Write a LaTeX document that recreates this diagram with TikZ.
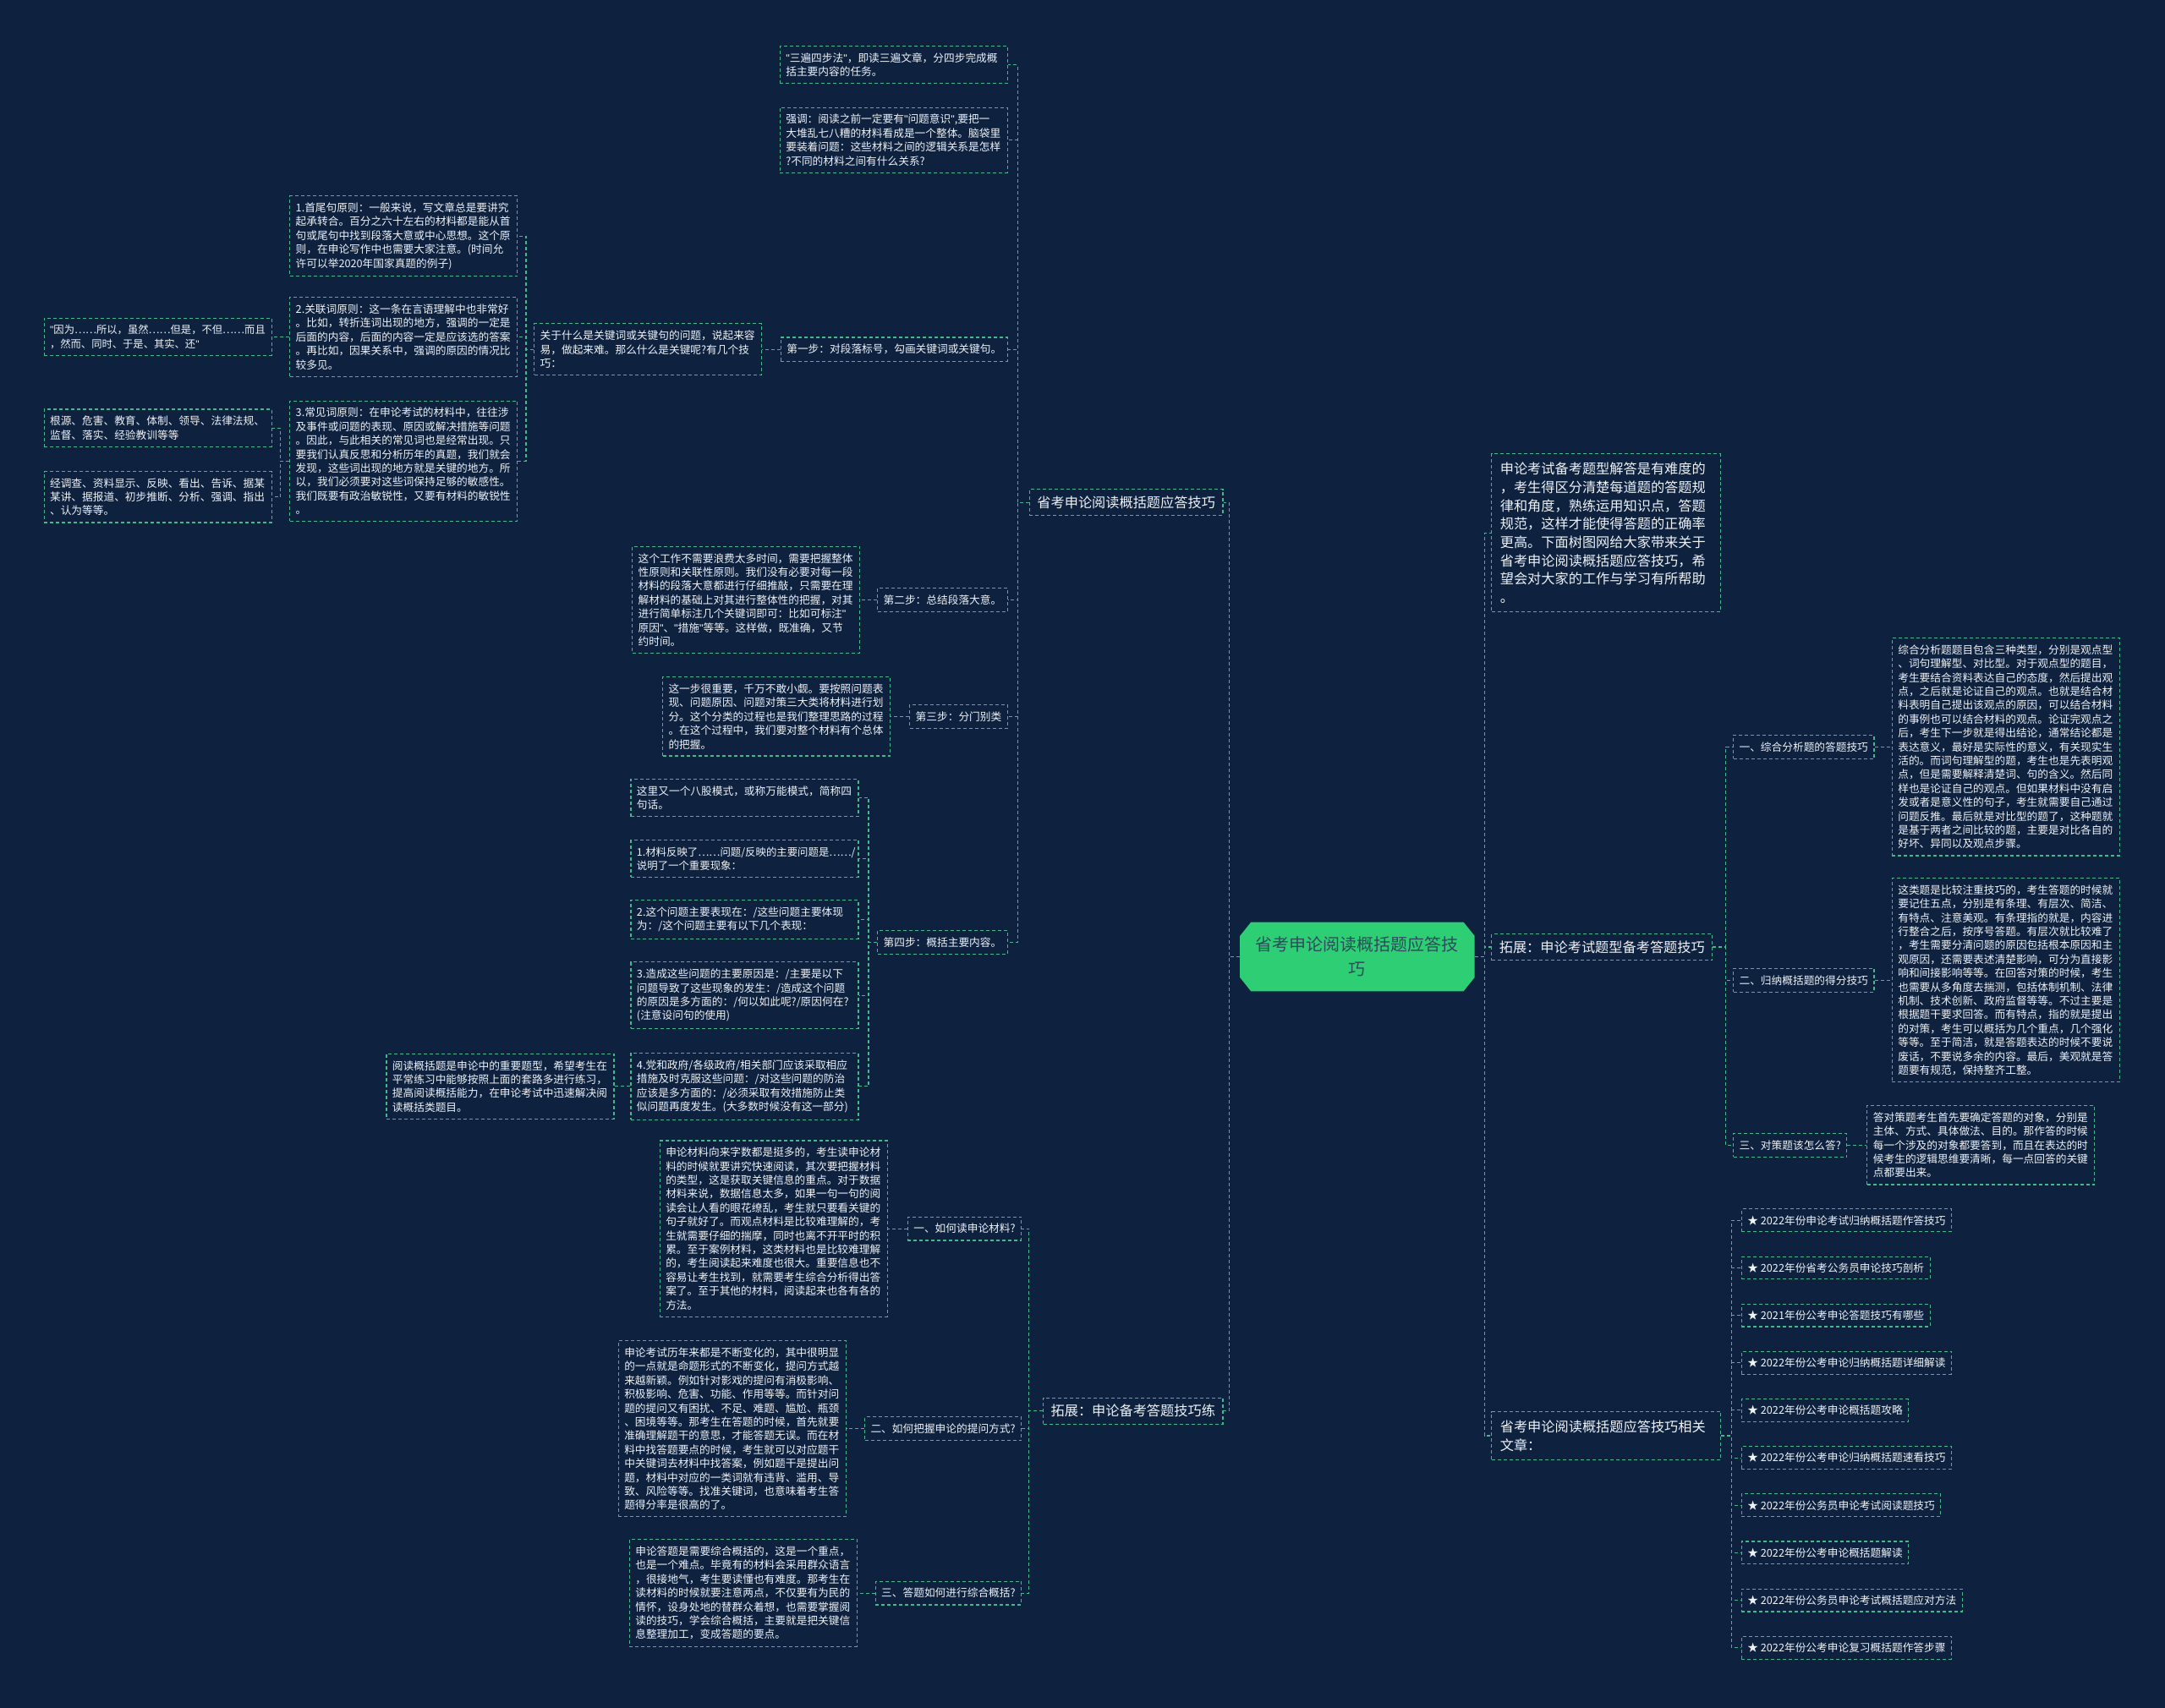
\documentclass[tikz,border=0pt]{standalone}
\usepackage{fontspec}
\setmainfont{Noto Sans CJK SC}
\newfontfamily\lat{Liberation Sans}
\newcommand{\dq}{{\lat\symbol{34}}}
\definecolor{bg}{HTML}{0E2240}
\definecolor{lg}{HTML}{44B98A}
\definecolor{txt}{HTML}{EEF2F6}
\definecolor{cgreen}{HTML}{2ECF74}
\definecolor{ctext}{HTML}{2D4B5C}
\begin{document}
\begin{tikzpicture}[x=1.6327pt,y=-1.6327pt,
  box/.style={draw=lg, dash pattern=on 4pt off 3pt, line width=1.1pt, text=txt,
    font=\fontsize{12.7}{16.4}\selectfont, inner xsep=7pt, inner ysep=8pt, align=left},
  tbox/.style={box, text width=255pt},
  mainbox/.style={box, font=\fontsize{16.2}{21.7}\selectfont, inner xsep=9pt, inner ysep=8pt},
  conn/.style={draw=lg, dash pattern=on 4pt off 3pt, line width=1.1pt}]
\fill[bg] (0,0) rectangle (1568,1237);
\useasboundingbox (0,0) rectangle (1568,1237);

% spine coordinates
\coordinate (sL) at (890,0);
\coordinate (sR) at (1075,0);
\coordinate (sA) at (737,0);
\coordinate (sK) at (381,0);
\coordinate (sP3) at (203,0);
\coordinate (sA4) at (629,0);
\coordinate (sB) at (745,0);
\coordinate (sD) at (1250,0);
\coordinate (sE) at (1254,0);

% centre
\fill[cgreen] (906,668) -- (1060,668) -- (1068,678) -- (1068,708) -- (1060,718) -- (906,718) -- (898,708) -- (898,678) -- cycle;
\node[font=\fontsize{20}{29}\selectfont, text=ctext, align=center, minimum width=277.6pt, minimum height=81.6pt, inner sep=0pt] (ctr) at (983,693) {省考申论阅读概括题应答技\\巧};

% main branches
\node[mainbox, anchor=east] (A) at (886,364) {省考申论阅读概括题应答技巧};
\node[mainbox, anchor=east] (B) at (886,1022) {拓展：申论备考答题技巧练};
\node[mainbox, anchor=west, text width=251pt, inner xsep=10pt, inner ysep=10pt] (C) at (1080,386) {申论考试备考题型解答是有难度的\\，考生得区分清楚每道题的答题规\\律和角度，熟练运用知识点，答题\\规范，这样才能使得答题的正确率\\更高。下面树图网给大家带来关于\\省考申论阅读概括题应答技巧，希\\望会对大家的工作与学习有所帮助\\。};
\node[mainbox, anchor=west] (D) at (1080,686) {拓展：申论考试题型备考答题技巧};
\node[mainbox, anchor=west, text width=251pt, inner xsep=10pt, inner ysep=10pt] (E) at (1080,1040) {省考申论阅读概括题应答技巧相关\\文章：};

% A children
\node[tbox, anchor=east] (t1) at (730,47) {\dq 三遍四步法\dq，即读三遍文章，分四步完成概\\括主要内容的任务。};
\node[tbox, anchor=east] (t2) at (730,101.5) {强调：阅读之前一定要有\dq 问题意识\dq,要把一\\大堆乱七八糟的材料看成是一个整体。脑袋里\\要装着问题：这些材料之间的逻辑关系是怎样\\?不同的材料之间有什么关系?};
\node[box, anchor=east] (A1) at (730,253) {第一步：对段落标号，勾画关键词或关键句。};
\node[box, anchor=east] (A2) at (730,434.5) {第二步：总结段落大意。};
\node[box, anchor=east] (A3) at (730,519) {第三步：分门别类};
\node[box, anchor=east] (A4) at (730,682.5) {第四步：概括主要内容。};

\node[tbox, anchor=east] (k) at (552,253) {关于什么是关键词或关键句的问题，说起来容\\易，做起来难。那么什么是关键呢?有几个技\\巧：};
\node[tbox, anchor=east] (p1) at (375,171) {1.首尾句原则：一般来说，写文章总是要讲究\\起承转合。百分之六十左右的材料都是能从首\\句或尾句中找到段落大意或中心思想。这个原\\则，在申论写作中也需要大家注意。(时间允\\许可以举2020年国家真题的例子)};
\node[tbox, anchor=east] (p2) at (375,244) {2.关联词原则：这一条在言语理解中也非常好\\。比如，转折连词出现的地方，强调的一定是\\后面的内容，后面的内容一定是应该选的答案\\。再比如，因果关系中，强调的原因的情况比\\较多见。};
\node[tbox, anchor=east] (p3) at (375,334) {3.常见词原则：在申论考试的材料中，往往涉\\及事件或问题的表现、原因或解决措施等问题\\。因此，与此相关的常见词也是经常出现。只\\要我们认真反思和分析历年的真题，我们就会\\发现，这些词出现的地方就是关键的地方。所\\以，我们必须要对这些词保持足够的敏感性。\\我们既要有政治敏锐性，又要有材料的敏锐性\\。};
\node[tbox, anchor=east, font=\fontsize{12.3}{16.4}\selectfont] (q1) at (197,244) {\dq 因为……所以，虽然……但是，不但……而且\\，然而、同时、于是、其实、还\dq};
\node[tbox, anchor=east] (q2) at (197,310) {根源、危害、教育、体制、领导、法律法规、\\监督、落实、经验教训等等};
\node[tbox, anchor=east] (q3) at (197,360) {经调查、资料显示、反映、看出、告诉、据某\\某讲、据报道、初步推断、分析、强调、指出\\、认为等等。};

\node[tbox, anchor=east] (A2c) at (623,434.5) {这个工作不需要浪费太多时间，需要把握整体\\性原则和关联性原则。我们没有必要对每一段\\材料的段落大意都进行仔细推敲，只需要在理\\解材料的基础上对其进行整体性的把握，对其\\进行简单标注几个关键词即可：比如可标注\dq\\原因\dq、\dq 措施\dq 等等。这样做，既准确，又节\\约时间。};
\node[tbox, anchor=east] (A3c) at (645,519) {这一步很重要，千万不敢小觑。要按照问题表\\现、问题原因、问题对策三大类将材料进行划\\分。这个分类的过程也是我们整理思路的过程\\。在这个过程中，我们要对整个材料有个总体\\的把握。};

\node[tbox, anchor=east] (r0) at (622,578) {这里又一个八股模式，或称万能模式，简称四\\句话。};
\node[tbox, anchor=east, font=\fontsize{12.4}{16.4}\selectfont] (r1) at (622,622) {1.材料反映了……问题/反映的主要问题是……/\\说明了一个重要现象：};
\node[tbox, anchor=east] (r2) at (622,666) {2.这个问题主要表现在：/这些问题主要体现\\为：/这个问题主要有以下几个表现：};
\node[tbox, anchor=east] (r3) at (622,721) {3.造成这些问题的主要原因是：/主要是以下\\问题导致了这些现象的发生：/造成这个问题\\的原因是多方面的：/何以如此呢?/原因何在?\\(注意设问句的使用)};
\node[tbox, anchor=east] (r4) at (622,787) {4.党和政府/各级政府/相关部门应该采取相应\\措施及时克服这些问题：/对这些问题的防治\\应该是多方面的：/必须采取有效措施防止类\\似问题再度发生。(大多数时候没有这一部分)};
\node[tbox, anchor=east] (r4c) at (445,787) {阅读概括题是申论中的重要题型，希望考生在\\平常练习中能够按照上面的套路多进行练习，\\提高阅读概括能力，在申论考试中迅速解决阅\\读概括类题目。};

% B children
\node[box, anchor=east] (b1) at (740,890) {一、如何读申论材料?};
\node[box, anchor=east] (b2) at (740,1035) {二、如何把握申论的提问方式?};
\node[box, anchor=east] (b3) at (740,1154) {三、答题如何进行综合概括?};
\node[tbox, anchor=east] (b1c) at (643,890) {申论材料向来字数都是挺多的，考生读申论材\\料的时候就要讲究快速阅读，其次要把握材料\\的类型，这是获取关键信息的重点。对于数据\\材料来说，数据信息太多，如果一句一句的阅\\读会让人看的眼花缭乱，考生就只要看关键的\\句子就好了。而观点材料是比较难理解的，考\\生就需要仔细的揣摩，同时也离不开平时的积\\累。至于案例材料，这类材料也是比较难理解\\的，考生阅读起来难度也很大。重要信息也不\\容易让考生找到，就需要考生综合分析得出答\\案了。至于其他的材料，阅读起来也各有各的\\方法。};
\node[tbox, anchor=east] (b2c) at (613,1035) {申论考试历年来都是不断变化的，其中很明显\\的一点就是命题形式的不断变化，提问方式越\\来越新颖。例如针对影戏的提问有消极影响、\\积极影响、危害、功能、作用等等。而针对问\\题的提问又有困扰、不足、难题、尴尬、瓶颈\\、困境等等。那考生在答题的时候，首先就要\\准确理解题干的意思，才能答题无误。而在材\\料中找答题要点的时候，考生就可以对应题干\\中关键词去材料中找答案，例如题干是提出问\\题，材料中对应的一类词就有违背、滥用、导\\致、风险等等。找准关键词，也意味着考生答\\题得分率是很高的了。};
\node[tbox, anchor=east] (b3c) at (621,1154) {申论答题是需要综合概括的，这是一个重点，\\也是一个难点。毕竟有的材料会采用群众语言\\，很接地气，考生要读懂也有难度。那考生在\\读材料的时候就要注意两点，不仅要有为民的\\情怀，设身处地的替群众着想，也需要掌握阅\\读的技巧，学会综合概括，主要就是把关键信\\息整理加工，变成答题的要点。};

% D children
\node[box, anchor=west] (D1) at (1255,541) {一、综合分析题的答题技巧};
\node[box, anchor=west] (D2) at (1255,710) {二、归纳概括题的得分技巧};
\node[box, anchor=west] (D3) at (1255,829.5) {三、对策题该怎么答?};
\node[tbox, anchor=west] (D1c) at (1370,541) {综合分析题题目包含三种类型，分别是观点型\\、词句理解型、对比型。对于观点型的题目，\\考生要结合资料表达自己的态度，然后提出观\\点，之后就是论证自己的观点。也就是结合材\\料表明自己提出该观点的原因，可以结合材料\\的事例也可以结合材料的观点。论证完观点之\\后，考生下一步就是得出结论，通常结论都是\\表达意义，最好是实际性的意义，有关现实生\\活的。而词句理解型的题，考生也是先表明观\\点，但是需要解释清楚词、句的含义。然后同\\样也是论证自己的观点。但如果材料中没有启\\发或者是意义性的句子，考生就需要自己通过\\问题反推。最后就是对比型的题了，这种题就\\是基于两者之间比较的题，主要是对比各自的\\好坏、异同以及观点步骤。};
\node[tbox, anchor=west] (D2c) at (1370,710) {这类题是比较注重技巧的，考生答题的时候就\\要记住五点，分别是有条理、有层次、简洁、\\有特点、注意美观。有条理指的就是，内容进\\行整合之后，按序号答题。有层次就比较难了\\，考生需要分清问题的原因包括根本原因和主\\观原因，还需要表述清楚影响，可分为直接影\\响和间接影响等等。在回答对策的时候，考生\\也需要从多角度去揣测，包括体制机制、法律\\机制、技术创新、政府监督等等。不过主要是\\根据题干要求回答。而有特点，指的就是提出\\的对策，考生可以概括为几个重点，几个强化\\等等。至于简洁，就是答题表达的时候不要说\\废话，不要说多余的内容。最后，美观就是答\\题要有规范，保持整齐工整。};
\node[tbox, anchor=west] (D3c) at (1352,829.5) {答对策题考生首先要确定答题的对象，分别是\\主体、方式、具体做法、目的。那作答的时候\\每一个涉及的对象都要答到，而且在表达的时\\候考生的逻辑思维要清晰，每一点回答的关键\\点都要出来。};

% E children
\node[box, anchor=west, inner ysep=7.5pt] (e1) at (1261,884) {★ 2022年份申论考试归纳概括题作答技巧};
\node[box, anchor=west, inner ysep=7.5pt] (e2) at (1261,918.4) {★ 2022年份省考公务员申论技巧剖析};
\node[box, anchor=west, inner ysep=7.5pt] (e3) at (1261,952.8) {★ 2021年份公考申论答题技巧有哪些};
\node[box, anchor=west, inner ysep=7.5pt] (e4) at (1261,987.2) {★ 2022年份公考申论归纳概括题详细解读};
\node[box, anchor=west, inner ysep=7.5pt] (e5) at (1261,1021.6) {★ 2022年份公考申论概括题攻略};
\node[box, anchor=west, inner ysep=7.5pt] (e6) at (1261,1056) {★ 2022年份公考申论归纳概括题速看技巧};
\node[box, anchor=west, inner ysep=7.5pt] (e7) at (1261,1090.4) {★ 2022年份公务员申论考试阅读题技巧};
\node[box, anchor=west, inner ysep=7.5pt] (e8) at (1261,1124.8) {★ 2022年份公考申论概括题解读};
\node[box, anchor=west, inner ysep=7.5pt] (e9) at (1261,1159.2) {★ 2022年份公务员申论考试概括题应对方法};
\node[box, anchor=west, inner ysep=7.5pt] (e10) at (1261,1193.6) {★ 2022年份公考申论复习概括题作答步骤};

% connectors
\foreach \c in {A,B} \draw[conn] (ctr.west) -- (ctr.west -| sL) |- (\c.east);
\foreach \c in {C,D,E} \draw[conn] (ctr.east) -- (ctr.east -| sR) |- (\c.west);
\foreach \c in {t1,t2,A1,A2,A3,A4} \draw[conn] (A.west) -- (A.west -| sA) |- (\c.east);
\draw[conn] (A1.west) -- (k.east);
\foreach \c in {p1,p2,p3} \draw[conn] (k.west) -- (k.west -| sK) |- (\c.east);
\draw[conn] (p2.west) -- (q1.east);
\foreach \c in {q2,q3} \draw[conn] (p3.west) -- (p3.west -| sP3) |- (\c.east);
\draw[conn] (A2.west) -- (A2c.east);
\draw[conn] (A3.west) -- (A3c.east);
\foreach \c in {r0,r1,r2,r3,r4} \draw[conn] (A4.west) -- (A4.west -| sA4) |- (\c.east);
\draw[conn] (r4.west) -- (r4c.east);
\foreach \c in {b1,b2,b3} \draw[conn] (B.west) -- (B.west -| sB) |- (\c.east);
\draw[conn] (b1.west) -- (b1c.east);
\draw[conn] (b2.west) -- (b2c.east);
\draw[conn] (b3.west) -- (b3c.east);
\foreach \c in {D1,D2,D3} \draw[conn] (D.east) -- (D.east -| sD) |- (\c.west);
\draw[conn] (D1.east) -- (D1c.west);
\draw[conn] (D2.east) -- (D2c.west);
\draw[conn] (D3.east) -- (D3c.west);
\foreach \c in {e1,e2,e3,e4,e5,e6,e7,e8,e9,e10} \draw[conn] (E.east) -- (E.east -| sE) |- (\c.west);
\end{tikzpicture}
\end{document}
